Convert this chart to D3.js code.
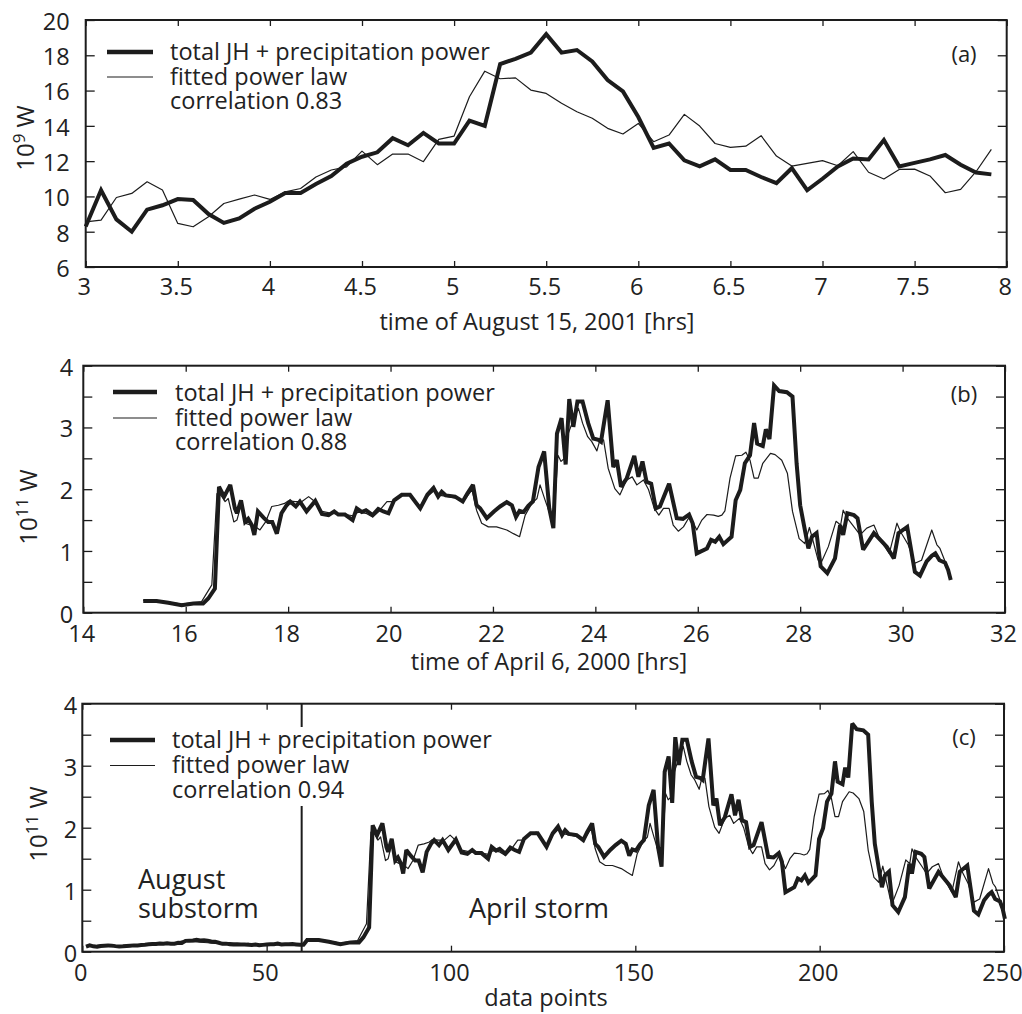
<!DOCTYPE html>
<html><head><meta charset="utf-8">
<script src="https://cdn.jsdelivr.net/npm/d3@7"></script>
<style>
body{margin:0;background:#fff}
svg{display:block}
text{font-family:"Open Sans",sans-serif;fill:#222}
</style>
</head><body>
<svg id="chart" width="1022" height="1014"></svg>
<script>
// ---------------- DATA ----------------
// (a) August 15, 2001, 5-minute samples from 3:00 hrs, units 1e9 W
const aStartHour = 3;
const aStepHours = 1 / 12;
const aThick = [8.3,10.35,8.7,8.0,9.25,9.5,9.85,9.8,9.0,8.5,8.75,9.3,9.7,10.2,10.2,10.7,11.15,11.85,12.25,12.5,
  13.3,12.9,13.6,13.0,13.0,14.3,14.0,17.5,17.8,18.15,19.2,18.15,18.3,17.65,16.6,15.95,14.5,12.75,13.0,12.05,
  11.7,12.1,11.5,11.5,11.1,10.75,11.6,10.35,11.0,11.7,12.15,12.1,13.2,11.7,11.9,12.1,12.35,11.8,11.35,11.25];
const aThin = [8.56,8.66,9.94,10.17,10.83,10.36,8.47,8.28,8.85,9.6,9.85,10.08,9.83,10.26,10.45,11.1,11.5,11.68,12.57,11.8,
  12.4,12.4,11.97,13.23,13.42,15.65,17.1,16.67,16.72,16.03,15.84,15.28,14.8,14.43,13.86,13.54,14.14,13.1,13.48,14.65,
  13.99,13.0,12.78,12.85,13.44,12.29,11.72,11.87,12.03,11.74,12.54,11.37,10.99,11.53,11.55,11.16,10.21,10.4,11.4,12.67];

// (b) April 6, 2000 : [hour, 1e11 W]
const bThick = [[15.17,0.19],[15.43,0.19],[15.66,0.16],[15.92,0.12],[16.15,0.15],[16.34,0.15],[16.44,0.23],[16.57,0.39],
 [16.65,2.04],[16.75,1.88],[16.87,2.07],[16.96,1.69],[17.00,1.61],[17.08,1.82],[17.16,1.47],[17.22,1.52],[17.29,1.42],
 [17.34,1.26],[17.41,1.64],[17.52,1.54],[17.61,1.47],[17.69,1.47],[17.78,1.28],[17.87,1.61],[17.97,1.74],[18.04,1.80],
 [18.15,1.72],[18.23,1.80],[18.36,1.64],[18.53,1.81],[18.66,1.60],[18.79,1.58],[18.90,1.64],[18.98,1.59],[19.11,1.59],
 [19.26,1.50],[19.34,1.69],[19.44,1.63],[19.52,1.66],[19.65,1.58],[19.76,1.68],[19.86,1.64],[19.96,1.61],[20.07,1.82],
 [20.22,1.91],[20.38,1.91],[20.58,1.69],[20.72,1.91],[20.84,2.02],[20.93,1.88],[21.00,1.96],[21.08,1.90],[21.26,1.88],
 [21.41,1.80],[21.50,1.93],[21.61,2.07],[21.68,1.74],[21.75,1.69],[21.88,1.53],[22.02,1.64],[22.14,1.72],[22.27,1.79],
 [22.37,1.74],[22.45,1.55],[22.52,1.65],[22.60,1.63],[22.69,1.73],[22.78,1.80],[22.89,2.36],[23.00,2.61],[23.10,1.69],
 [23.18,1.37],[23.25,2.90],[23.34,3.15],[23.42,2.40],[23.49,3.46],[23.57,3.01],[23.65,3.42],[23.75,3.42],[23.86,3.07],
 [23.96,2.82],[24.06,2.80],[24.11,2.77],[24.24,3.44],[24.35,2.36],[24.42,2.47],[24.50,2.04],[24.61,2.17],[24.76,2.54],
 [24.84,2.20],[24.92,2.45],[25.00,2.12],[25.09,2.09],[25.18,1.69],[25.26,1.72],[25.44,2.09],[25.59,1.53],[25.71,1.52],
 [25.83,1.59],[25.90,1.45],[25.98,0.96],[26.18,1.04],[26.26,1.18],[26.34,1.15],[26.42,1.23],[26.50,1.11],[26.66,1.23],
 [26.74,1.82],[26.83,1.99],[26.92,2.42],[27.02,2.55],[27.10,3.07],[27.16,2.74],[27.27,2.70],[27.33,2.97],[27.40,2.81],
 [27.49,3.68],[27.59,3.59],[27.74,3.57],[27.85,3.50],[27.93,2.42],[28.00,1.74],[28.08,1.39],[28.16,1.04],[28.23,1.23],
 [28.32,1.29],[28.40,0.75],[28.53,0.64],[28.68,0.88],[28.78,1.42],[28.84,1.26],[28.92,1.61],[29.05,1.58],[29.12,1.53],
 [29.23,1.02],[29.44,1.29],[29.69,1.07],[29.83,0.88],[29.92,1.29],[30.09,1.39],[30.24,0.66],[30.34,0.60],[30.47,0.83],
 [30.57,0.92],[30.64,0.96],[30.72,0.85],[30.83,0.81],[30.89,0.69],[30.94,0.53]];
const bThin = [[15.17,0.20],[15.43,0.20],[15.66,0.17],[15.92,0.14],[16.31,0.18],[16.51,0.45],[16.61,1.93],[16.69,1.90],
 [16.77,1.80],[16.83,1.85],[16.94,1.47],[17.00,1.50],[17.08,1.74],[17.16,1.45],[17.26,1.42],[17.35,1.40],[17.45,1.34],
 [17.56,1.47],[17.68,1.72],[17.81,1.74],[17.93,1.77],[18.00,1.81],[18.14,1.80],[18.27,1.80],[18.40,1.88],[18.49,1.82],
 [18.66,1.64],[18.85,1.61],[19.11,1.59],[19.27,1.57],[19.37,1.63],[19.52,1.61],[19.65,1.55],[19.76,1.63],[19.93,1.80],
 [20.06,1.80],[20.17,1.88],[20.35,1.93],[20.41,1.88],[20.58,1.72],[20.72,1.88],[20.87,1.99],[20.97,1.90],[21.13,1.88],
 [21.29,1.85],[21.42,1.80],[21.59,1.99],[21.68,1.66],[21.78,1.45],[21.91,1.39],[22.07,1.39],[22.27,1.34],[22.40,1.28],
 [22.52,1.23],[22.63,1.58],[22.76,1.77],[22.86,1.85],[22.92,2.07],[23.02,1.82],[23.10,1.63],[23.18,1.42],[23.27,2.55],
 [23.33,2.45],[23.40,2.50],[23.46,2.88],[23.57,3.12],[23.67,3.31],[23.75,3.07],[23.85,2.85],[23.93,2.77],[24.03,2.62],
 [24.09,2.80],[24.16,2.80],[24.25,2.34],[24.38,2.01],[24.48,1.91],[24.61,2.15],[24.72,2.20],[24.81,2.07],[24.94,2.15],
 [25.04,1.99],[25.15,1.69],[25.24,1.58],[25.33,1.69],[25.44,1.69],[25.52,1.42],[25.62,1.32],[25.72,1.39],[25.82,1.53],
 [25.90,1.48],[25.98,1.34],[26.08,1.50],[26.18,1.59],[26.31,1.58],[26.40,1.56],[26.47,1.58],[26.53,1.65],[26.63,2.18],
 [26.74,2.54],[26.86,2.55],[26.94,2.60],[27.02,2.47],[27.10,2.18],[27.18,2.18],[27.27,2.42],[27.42,2.58],[27.51,2.56],
 [27.64,2.47],[27.75,2.26],[27.85,1.64],[27.98,1.20],[28.09,1.12],[28.18,1.38],[28.24,1.20],[28.35,0.85],[28.42,0.83],
 [28.55,1.07],[28.70,1.48],[28.79,1.42],[28.84,1.66],[28.92,1.53],[29.07,1.37],[29.17,1.26],[29.30,1.37],[29.44,1.42],
 [29.56,1.18],[29.74,0.96],[29.89,1.45],[29.96,1.31],[30.11,1.10],[30.24,0.80],[30.37,0.85],[30.57,1.34],[30.67,1.10],
 [30.73,1.04],[30.83,0.83]];

// (c) combined: August points 1..60 (converted to 1e11 W), April points from 61 on (5-min samples)
const cAugustFirstIndex = 1;
const cAprilFirstIndex = 61;
const cAprilStartHour = 15.17;
const cSeparator = 59.5;

// tick labels
const aXTicks = [3,3.5,4,4.5,5,5.5,6,6.5,7,7.5,8];
const aYTicks = [6,8,10,12,14,16,18,20];
const bXTicks = [14,16,18,20,22,24,26,28,30,32];
const bYTicks = [0,0.5,1,1.5,2,2.5,3,3.5,4];
const cXTicks = [0,50,100,150,200,250];
const cYTicks = [0,0.5,1,1.5,2,2.5,3,3.5,4];
const legendLabels = ["total JH + precipitation power", "fitted power law"];
const correlations = ["correlation 0.83", "correlation 0.88", "correlation 0.94"];

// derived series for (c)
const cThick = aThick.map((v,i)=>[cAugustFirstIndex+i, v/100])
  .concat(bThick.map(d=>[cAprilFirstIndex+(d[0]-cAprilStartHour)*12, d[1]]));
const cThin = aThin.map((v,i)=>[cAugustFirstIndex+i, v/100])
  .concat(bThin.map(d=>[cAprilFirstIndex+(d[0]-cAprilStartHour)*12, d[1]]));
const aThickPts = aThick.map((v,i)=>[aStartHour+i*aStepHours, v]);
const aThinPts = aThin.map((v,i)=>[aStartHour+i*aStepHours, v]);

// ---------------- DRAW ----------------
const svg = d3.select("#chart");
const INK = "#1c1c1c";
const FS = 23.5;

function panel(p){
  const g = svg.append("g");
  const x = d3.scaleLinear().domain(p.xDom).range([p.left,p.right]);
  const y = d3.scaleLinear().domain(p.yDom).range([p.bottom,p.top]);
  const fmtY = v => Number.isInteger(v) ? String(v) : "";

  const ax = (axis, tx, ty) => {
    const a = g.append("g").attr("transform",`translate(${tx},${ty})`).call(axis);
    a.select(".domain").remove();
    a.selectAll(".tick line").attr("stroke",INK).attr("stroke-width",1.3);
    a.selectAll(".tick text").attr("font-size",FS).attr("font-family","'Open Sans',sans-serif").attr("fill","#222");
    return a;
  };
  ax(d3.axisBottom(x).tickValues(p.xTicks).tickSizeInner(-6).tickSizeOuter(0).tickPadding(p.xPad).tickFormat(d3.format("")), 0, p.bottom)
    .selectAll(".tick text").attr("dx", -2);
  ax(d3.axisTop(x).tickValues(p.xTicks).tickSizeInner(-6).tickSizeOuter(0).tickFormat(""), 0, p.top);
  ax(d3.axisLeft(y).tickValues(p.yTicks).tickSizeInner(-9).tickSizeOuter(0).tickPadding(p.yPad).tickFormat(fmtY), p.left, 0)
    .selectAll(".tick text").attr("dy","0.4em");
  ax(d3.axisRight(y).tickValues(p.yTicks).tickSizeInner(-9).tickSizeOuter(0).tickFormat(""), p.right, 0);

  if (p.separator !== undefined) {
    g.append("line").attr("x1",x(p.separator)).attr("x2",x(p.separator))
      .attr("y1",p.top).attr("y2",p.bottom).attr("stroke",INK).attr("stroke-width",2);
  }

  const line = d3.line().x(d=>x(d[0])).y(d=>y(d[1]));
  g.append("path").datum(p.thin).attr("d",line).attr("fill","none")
    .attr("stroke",INK).attr("stroke-width",1.2).attr("stroke-linejoin","round");
  g.append("path").datum(p.thick).attr("d",line).attr("fill","none")
    .attr("stroke",INK).attr("stroke-width",4).attr("stroke-linejoin","miter").attr("stroke-miterlimit",2.5);

  // frame
  g.append("rect").attr("x",p.left).attr("y",p.top).attr("width",p.right-p.left).attr("height",p.bottom-p.top)
    .attr("fill","none").attr("stroke",INK).attr("stroke-width",2);

  // legend
  const L = p.legend;
  if (p.legendBg) {
    g.append("rect").attr("x",L.tx-6).attr("y",L.by0-21).attr("width",330).attr("height",79).attr("fill","#fff");
  }
  g.append("line").attr("x1",L.lx0).attr("x2",L.lx1).attr("y1",L.ly0).attr("y2",L.ly0).attr("stroke",INK).attr("stroke-width",4.5);
  g.append("line").attr("x1",L.lx0).attr("x2",L.lx1).attr("y1",L.ly1).attr("y2",L.ly1).attr("stroke",INK).attr("stroke-width",1.2);
  const lt = g.append("text").attr("font-size",FS);
  [legendLabels[0], legendLabels[1], p.corr].forEach((t,i)=>{
    lt.append("tspan").attr("x",L.tx).attr("y",L.by0+i*L.dy).text(t);
  });

  // panel letter
  g.append("text").attr("x",p.letter[0]).attr("y",p.letter[1]).attr("text-anchor","middle").attr("font-size",22).text(p.letterText);

  // x title
  g.append("text").attr("x",p.xTitle[0]).attr("y",p.xTitle[1]).attr("text-anchor","middle").attr("font-size",FS).text(p.xTitleText);

  // y title (rotated)
  const yt = g.append("text").attr("transform",`translate(${p.yTitle[0]},${p.yTitle[1]}) rotate(-90)`)
    .attr("text-anchor","middle").attr("font-size",24);
  yt.append("tspan").text("10");
  yt.append("tspan").attr("font-size",17).attr("dy",-9).text(p.yExp);
  yt.append("tspan").attr("dy",9).text(" W");

  return {g,x,y};
}

panel({left:85.7,right:1006.7,top:20,bottom:267,xDom:[3,8],yDom:[6,20],xTicks:aXTicks,yTicks:aYTicks,yPad:16,xPad:11.5,
  thick:aThickPts,thin:aThinPts,corr:correlations[0],
  legend:{lx0:107,lx1:153,ly0:52,ly1:77,tx:170,by0:60,dy:24.5},
  letter:[964,62],letterText:"(a)",xTitle:[537,330],xTitleText:"time of August 15, 2001 [hrs]",
  yTitle:[34,138],yExp:"9"});

panel({left:83.3,right:1005,top:365.7,bottom:612.7,xDom:[14,32],yDom:[0,4],xTicks:bXTicks,yTicks:bYTicks,yPad:10,xPad:12.5,
  thick:bThick,thin:bThin,corr:correlations[1],
  legend:{lx0:113,lx1:157,ly0:392,ly1:418,tx:175,by0:401,dy:24.5},
  letter:[964,402],letterText:"(b)",xTitle:[549,670],xTitleText:"time of April 6, 2000 [hrs]",
  yTitle:[37,507],yExp:"11"});

const pc = panel({left:82.3,right:1004,top:703.7,bottom:951.7,xDom:[0,250],yDom:[0,4],xTicks:cXTicks,yTicks:cYTicks,yPad:5,xPad:13,
  thick:cThick,thin:cThin,corr:correlations[2],separator:cSeparator,legendBg:true,
  legend:{lx0:110,lx1:155,ly0:740,ly1:765.5,tx:172,by0:748,dy:25},
  letter:[964,745],letterText:"(c)",xTitle:[546,1006],xTitleText:"data points",
  yTitle:[47,824],yExp:"11"});

const aug = pc.g.append("text").attr("font-size",27);
aug.append("tspan").attr("x",138).attr("y",889).text("August");
aug.append("tspan").attr("x",138).attr("y",918).text("substorm");
pc.g.append("text").attr("x",469).attr("y",918).attr("font-size",27).text("April storm");
</script>
</body></html>
